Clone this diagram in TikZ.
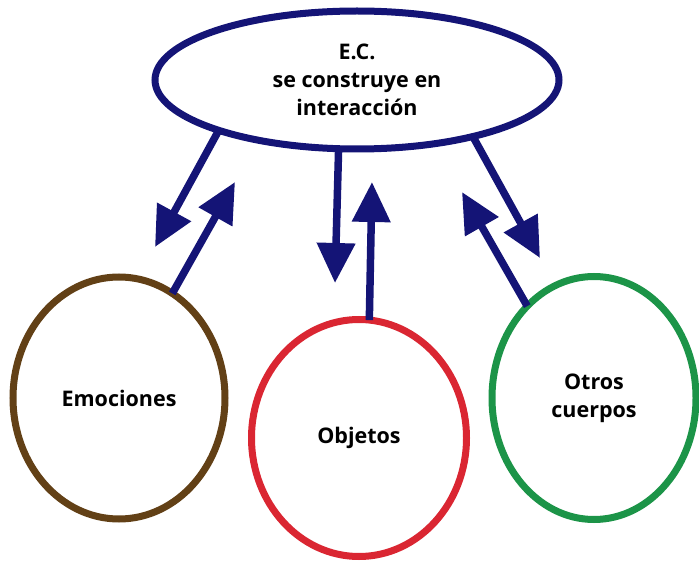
\documentclass[tikz,border=0pt]{standalone}
\usepackage{fontspec}
\setmainfont{Open Sans}
\usetikzlibrary{shapes.geometric,arrows.meta}
\definecolor{navy}{RGB}{20,20,118}
\definecolor{cbrown}{RGB}{98,64,22}
\definecolor{cred}{RGB}{218,38,50}
\definecolor{cgreen}{RGB}{28,148,72}
\tikzset{
  bubble/.style={ellipse,draw,line width=7pt,inner sep=0pt,outer sep=0pt,
    align=center,font=\fontsize{21.5}{28}\selectfont\bfseries},
  link/.style={draw=navy,line width=7.5pt,-{Triangle[length=40pt,width=37pt]},navy},
}
\begin{document}
\begin{tikzpicture}[x=1pt,y=-1pt]
\useasboundingbox (0,0) rectangle (699,564);
\node[bubble,draw=navy,minimum width=404pt,minimum height=138pt] (ec) at (357,80)
  {E.C.\\se construye en\\interacción};
\node[bubble,draw=cbrown,minimum width=212pt,minimum height=242pt] (emo) at (119,398) {Emociones};
\node[bubble,draw=cred,minimum width=215pt,minimum height=237pt] (obj) at (359,438) {Objetos};
\node[bubble,draw=cgreen,minimum width=204pt,minimum height=243pt] (otr) at (594,398) {Otros\\cuerpos};
\coordinate (t1) at (155,247);
\coordinate (t2) at (235,182);
\coordinate (t3) at (335,283);
\coordinate (t4) at (372,182);
\coordinate (t5) at (462,192);
\coordinate (t6) at (540,258);
\draw[link] (ec.-160.2) -- (t1);
\draw[link] (emo.63.2) -- (t2);
\draw[link] (ec.-105.5) -- (t3);
\draw[link] (obj.85.2) -- (t4);
\draw[link] (otr.126.2) -- (t5);
\draw[link] (ec.-26) -- (t6);
\end{tikzpicture}
\end{document}
